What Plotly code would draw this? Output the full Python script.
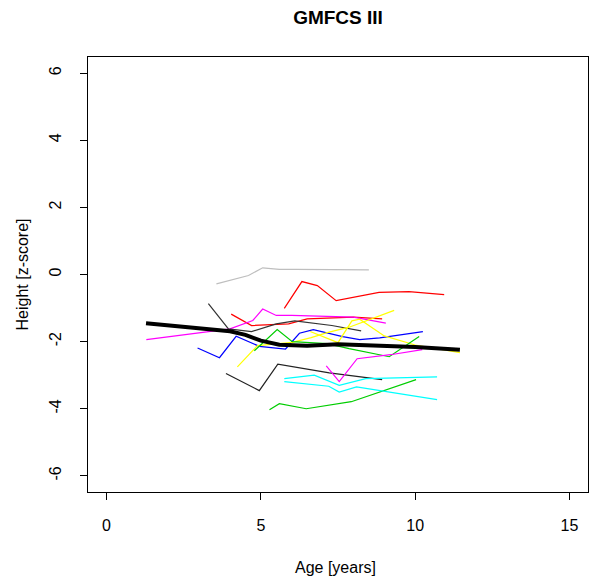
import plotly.graph_objects as go

# Individual trajectories: age (years) and height z-score
grey_x = [3.56, 4.6, 5.06, 5.6, 6.1, 8.5]
grey_y = [-0.28, -0.03, 0.2, 0.15, 0.15, 0.14]

red1_x = [5.76, 6.33, 6.83, 7.44, 8.83, 9.8, 10.94]
red1_y = [-1.01, -0.21, -0.33, -0.78, -0.53, -0.51, -0.6]

red2_x = [4.04, 4.7, 5.9, 6.5, 8.0, 8.93]
red2_y = [-1.18, -1.52, -1.47, -1.32, -1.27, -1.32]

mag1_x = [1.29, 4.0, 4.74, 5.06, 5.5, 6.0, 8.0, 9.05]
mag1_y = [-1.94, -1.62, -1.37, -1.03, -1.22, -1.22, -1.27, -1.45]

dark1_x = [3.3, 3.95, 4.7, 5.5, 6.1, 7.3, 8.25]
dark1_y = [-0.87, -1.62, -1.7, -1.47, -1.38, -1.52, -1.68]

blue_x = [2.95, 3.66, 4.2, 4.95, 5.8, 6.25, 6.7, 7.65, 8.2, 8.85, 10.25]
blue_y = [-2.19, -2.48, -1.84, -2.14, -2.22, -1.75, -1.64, -1.85, -1.94, -1.89, -1.7]

yelA_x = [4.24, 4.89, 6.02, 6.63, 7.15, 7.86, 9.32]
yelA_y = [-2.75, -2.12, -2.02, -1.88, -1.73, -1.57, -1.07]

yelB_x = [6.6, 7.5, 7.95, 8.2, 9.0, 9.6, 10.0, 11.45]
yelB_y = [-1.7, -2.03, -1.38, -1.33, -1.83, -2.0, -2.1, -2.33]

grnA_x = [4.79, 5.53, 6.02, 7.15, 7.86, 9.16, 10.13]
grnA_y = [-2.27, -1.64, -2.0, -2.06, -2.21, -2.45, -1.85]

grnB_x = [5.28, 5.6, 6.47, 7.93, 10.03]
grnB_y = [-4.03, -3.85, -4.0, -3.79, -3.13]

dark2_x = [3.87, 4.95, 5.55, 7.22, 8.93]
dark2_y = [-2.95, -3.46, -2.67, -2.93, -3.13]

cyanA_x = [5.76, 6.73, 7.54, 8.4, 10.71]
cyanA_y = [-3.1, -3.0, -3.3, -3.1, -3.05]

cyanB_x = [5.76, 7.2, 7.54, 8.1, 10.71]
cyanB_y = [-3.19, -3.33, -3.5, -3.35, -3.73]

mag2_x = [7.12, 7.54, 8.12, 9.2, 10.23]
mag2_y = [-2.72, -3.19, -2.51, -2.39, -2.24]

# Mean trajectory
mean_x = [1.28, 4.0, 4.5, 5.0, 5.6, 6.5, 7.5, 8.5, 10.0, 11.45]
mean_y = [-1.45, -1.69, -1.8, -1.97, -2.09, -2.12, -2.08, -2.1, -2.16, -2.24]

x_ticks = [0, 5, 10, 15]
y_ticks = [-6, -4, -2, 0, 2, 4, 6]

series = [
    (grey_x, grey_y, "#BEBEBE"),
    (red1_x, red1_y, "#FF0000"),
    (red2_x, red2_y, "#FF0000"),
    (mag1_x, mag1_y, "#FF00FF"),
    (dark1_x, dark1_y, "#333333"),
    (blue_x, blue_y, "#0000FF"),
    (yelA_x, yelA_y, "#FFFF00"),
    (yelB_x, yelB_y, "#FFFF00"),
    (grnA_x, grnA_y, "#00CD00"),
    (grnB_x, grnB_y, "#00CD00"),
    (dark2_x, dark2_y, "#222222"),
    (cyanA_x, cyanA_y, "#00FFFF"),
    (cyanB_x, cyanB_y, "#00FFFF"),
    (mag2_x, mag2_y, "#FF00FF"),
]

fig = go.Figure()
for xs, ys, c in series:
    fig.add_trace(go.Scatter(x=xs, y=ys, mode="lines",
                             line=dict(color=c, width=1.2), showlegend=False,
                             hoverinfo="skip"))
fig.add_trace(go.Scatter(x=mean_x, y=mean_y, mode="lines",
                         line=dict(color="black", width=4),
                         showlegend=False, hoverinfo="skip"))

font = "Liberation Sans, Arial, sans-serif"
W, H = 592, 576  # page has an 8px body margin
fig.update_layout(
    width=W, height=H,
    margin=dict(l=80, r=12, t=49, b=92, autoexpand=False),
    plot_bgcolor="white", paper_bgcolor="white",
    font=dict(family=font, size=16, color="black"),
    title=dict(text="<b>GMFCS III</b>", x=330/W, xanchor="center",
               y=1 - 9/H, yanchor="middle", yref="container",
               font=dict(family=font, size=19, color="black")),
    xaxis=dict(range=[-0.6, 15.6], tickvals=x_ticks, ticktext=[str(v) for v in x_ticks],
               showgrid=False, zeroline=False, showline=True, mirror=True,
               linecolor="black", linewidth=1, ticks="outside", ticklen=7,
               tickcolor="black", ticklabelstandoff=12,
               tickfont=dict(family=font, size=16, color="black")),
    yaxis=dict(range=[-6.48, 6.48], tickvals=y_ticks, ticktext=[str(v) for v in y_ticks],
               showgrid=False, zeroline=False, showline=True, mirror=True,
               linecolor="black", linewidth=1, ticks="outside", ticklen=7,
               tickcolor="black", tickangle=-90, ticklabelstandoff=13,
               tickfont=dict(family=font, size=16, color="black")),
    annotations=[
        dict(text="Age [years]", xref="paper", yref="paper", x=(335.5-88)/500, y=(492-567)/435,
             xanchor="center", yanchor="middle", showarrow=False,
             font=dict(family=font, size=16, color="black")),
        dict(text="Height [z-score]", xref="paper", yref="paper", x=(22-88)/500, y=0.5,
             xanchor="center", yanchor="middle", showarrow=False, textangle=-90,
             font=dict(family=font, size=16, color="black")),
    ],
)
fig.write_html("out.html")
